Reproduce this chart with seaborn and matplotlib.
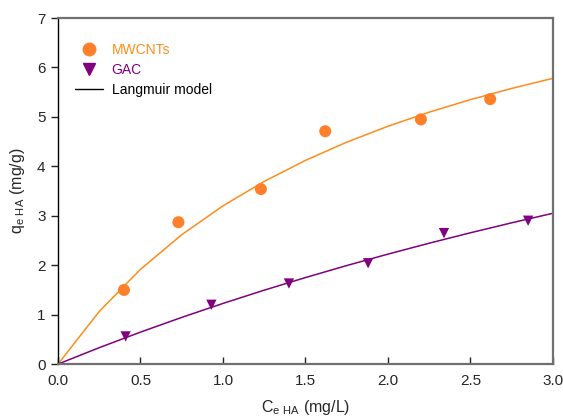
import numpy as np
import pandas as pd
import seaborn as sns
import matplotlib.pyplot as plt
from matplotlib.lines import Line2D

sns.set_theme(style="white")
plt.rcParams['font.family'] = ['Liberation Sans', 'DejaVu Sans']

# Equilibrium data (Ce in mg/L, qe in mg/g)
mwcnt_ce = [0.40, 0.73, 1.23, 1.62, 2.20, 2.62]
mwcnt_qe = [1.50, 2.87, 3.54, 4.71, 4.95, 5.36]
gac_ce = [0.41, 0.93, 1.40, 1.88, 2.34, 2.85]
gac_qe = [0.56, 1.20, 1.63, 2.04, 2.65, 2.90]

# Langmuir parameters (qm in mg/g, KL in L/mg)
mwcnt_qm, mwcnt_kl = 9.68, 0.494
gac_qm, gac_kl = 11.87, 0.1153

x_ticks = [0.0, 0.5, 1.0, 1.5, 2.0, 2.5, 3.0]
y_ticks = [0, 1, 2, 3, 4, 5, 6, 7]

c_model = np.arange(0, 3.0001, 0.25)
def langmuir(c, qm, kl):
    return qm * kl * c / (1 + kl * c)

mwcnt_pts = pd.DataFrame({"Ce": mwcnt_ce, "qe": mwcnt_qe})
gac_pts = pd.DataFrame({"Ce": gac_ce, "qe": gac_qe})
fit = pd.concat([
    pd.DataFrame({"Ce": c_model, "qe": langmuir(c_model, mwcnt_qm, mwcnt_kl), "sorbent": "MWCNTs"}),
    pd.DataFrame({"Ce": c_model, "qe": langmuir(c_model, gac_qm, gac_kl), "sorbent": "GAC"}),
])

orange_pt = "#FF7F2A"
orange_ln = "#FF8C1A"
purple = "#800080"

fig = plt.figure(figsize=(5.63, 4.19), dpi=100)
ax = fig.add_axes([0.103, 0.131, 0.879, 0.826])

sns.lineplot(data=fit, x="Ce", y="qe", hue="sorbent",
             palette={"MWCNTs": orange_ln, "GAC": purple},
             lw=1.1, legend=False, ax=ax, sort=False)
sns.scatterplot(data=mwcnt_pts, x="Ce", y="qe", marker="o", color=orange_pt,
                s=75, edgecolor="none", ax=ax, zorder=3)
sns.scatterplot(data=gac_pts, x="Ce", y="qe", marker="v", color=purple,
                s=55, edgecolor="none", ax=ax, zorder=3)

ax.set_xlim(0, 3.0)
ax.set_ylim(0, 7)
ax.set_xticks(x_ticks)
ax.set_xticklabels([f"{v:.1f}" for v in x_ticks])
ax.set_yticks(y_ticks)
ax.set_yticklabels([str(v) for v in y_ticks])

for side in ["top", "right", "bottom"]:
    ax.spines[side].set_color("#707070")
    ax.spines[side].set_linewidth(1.6)
ax.spines["left"].set_color("black")
ax.spines["left"].set_linewidth(1.0)

ax.tick_params(axis="x", direction="in", length=5, width=1, color="#222222",
               labelsize=11, pad=7, bottom=True)
ax.tick_params(axis="y", direction="out", length=5, width=1, color="#222222",
               labelsize=11, pad=4, left=True)

ax.set_xlabel(r"C$_{\mathregular{e\ HA}}$ (mg/L)", fontsize=11.5, labelpad=7)
ax.set_ylabel(r"q$_{\mathregular{e\ HA}}$ (mg/g)", fontsize=11.5, labelpad=7)

handles = [
    Line2D([], [], marker="o", color=orange_pt, ls="none", markersize=9),
    Line2D([], [], marker="v", color=purple, ls="none", markersize=8),
    Line2D([], [], color="black", lw=1.0),
]
leg = ax.legend(handles, ["MWCNTs", "GAC", "Langmuir model"], loc="upper left",
                bbox_to_anchor=(0.01, 0.965), frameon=False, fontsize=10,
                handlelength=2.0, handletextpad=0.6, labelspacing=0.45)
for txt, col in zip(leg.get_texts(), [orange_ln, purple, "black"]):
    txt.set_color(col)

fig.savefig("out.png", dpi=100)
